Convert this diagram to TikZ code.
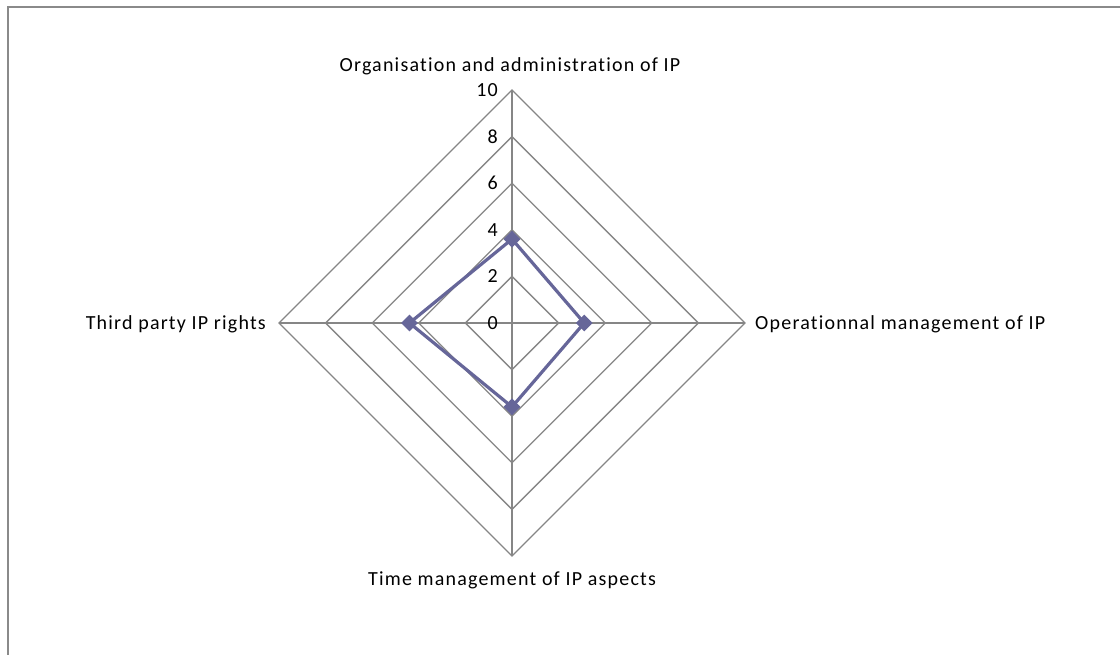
\documentclass[tikz,border=0pt]{standalone}
\usepackage{fontspec}
\setmainfont{Carlito}[LetterSpace=6, Ligatures=NoCommon]
\usetikzlibrary{positioning, shapes.geometric}
\tikzset{
    gridLine/.style = {draw=gLine, line width=1.3pt},
    frameLine/.style = {draw=fLine, line width=2.4pt},
    seriesLine/.style = {draw=sColor, line width=3.2pt, line join=round},
    Marker/.style = {diamond, fill=sColor, inner sep=0pt,
        minimum width=17pt, minimum height=17pt},
    tickLabel/.style = {anchor=east, inner sep=0pt, font=\fontsize{20}{22}\selectfont},
    axisLabel/.style = {inner sep=0pt, font=\fontsize{20}{22}\selectfont}
}
\definecolor{gLine}{HTML}{868686}
\definecolor{fLine}{HTML}{8A8A8A}
\definecolor{sColor}{HTML}{666699}

\begin{document}
\begin{tikzpicture}[x=1pt, y=1pt]
    \useasboundingbox (0,0) rectangle (1120,655);
    \draw [frameLine] (8,0) -- (8,648) -- (1120,648);
    % rings of the radar
    \draw [gridLine] (512,378.6) -- (558.6,332) -- (512,285.4) -- (465.4,332) -- cycle;
    \draw [gridLine] (512,425.2) -- (605.2,332) -- (512,238.8) -- (418.8,332) -- cycle;
    \draw [gridLine] (512,471.8) -- (651.8,332) -- (512,192.2) -- (372.2,332) -- cycle;
    \draw [gridLine] (512,518.4) -- (698.4,332) -- (512,145.6) -- (325.6,332) -- cycle;
    \draw [gridLine] (512,565) -- (745,332) -- (512,99) -- (279,332) -- cycle;
    \draw [gridLine] (512,565) -- (512,99);
    \draw [gridLine] (279,332) -- (745,332);
    % scale
    \node [tickLabel] (t0) at (498,332) {0};
    \node [tickLabel] (t2) at (498,378.6) {2};
    \node [tickLabel] (t4) at (498,425.2) {4};
    \node [tickLabel] (t6) at (498,471.8) {6};
    \node [tickLabel] (t8) at (498,518.4) {8};
    \node [tickLabel] (t10) at (498,565) {10};
    % axis names
    \node [axisLabel, anchor=base] (org) at (510,583) {Organisation and administration of IP};
    \node [axisLabel, anchor=base west] (ops) at (755,325) {Operationnal management of IP};
    \node [axisLabel, anchor=base] (time) at (512,69) {Time management of IP aspects};
    \node [axisLabel, anchor=base east] (third) at (266,325) {Third party IP rights};
    % series
    \coordinate (pOrg) at (512,415.9);
    \coordinate (pOps) at (584.2,332);
    \coordinate (pTime) at (512,248.1);
    \coordinate (pThird) at (409.5,332);
    \draw [seriesLine] (pOrg) -- (pOps) -- (pTime) -- (pThird) -- cycle;
    \node [Marker] (mOrg) at (pOrg) {};
    \node [Marker] (mOps) at (pOps) {};
    \node [Marker] (mTime) at (pTime) {};
    \node [Marker] (mThird) at (pThird) {};
\end{tikzpicture}
\end{document}
